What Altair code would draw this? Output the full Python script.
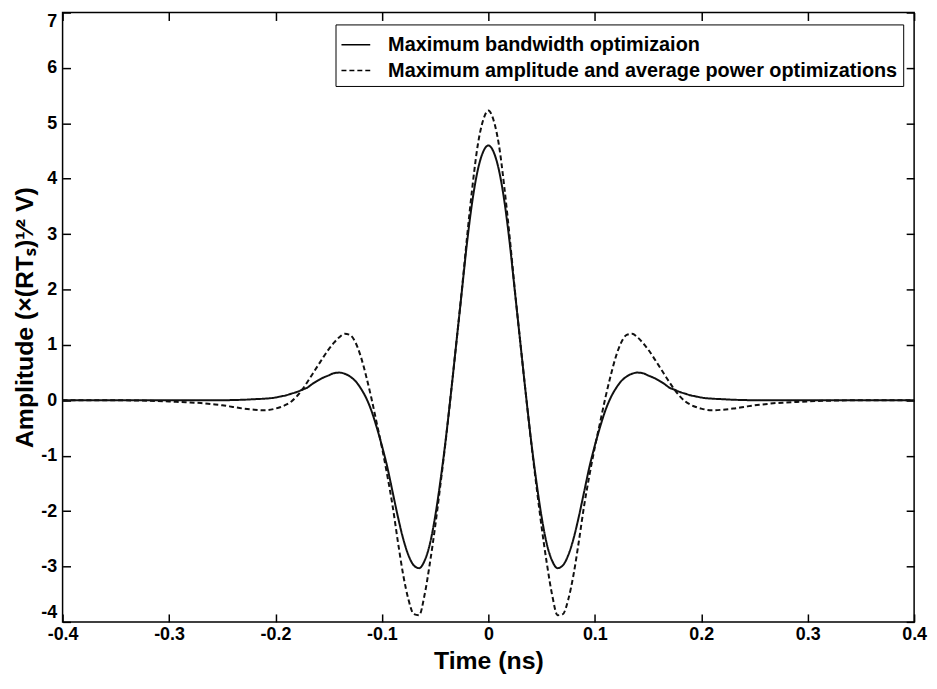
import altair as alt
import pandas as pd

# ---- data ----
time_ns = [
    -0.4, -0.35, -0.3, -0.29, -0.28, -0.27, -0.26, -0.25, -0.24, -0.23, -0.22, -0.21,
    -0.2, -0.195, -0.19, -0.185, -0.18, -0.175, -0.17, -0.165, -0.16, -0.155, -0.15,
    -0.145, -0.14, -0.135, -0.13, -0.125, -0.12, -0.115, -0.11, -0.105, -0.1, -0.095,
    -0.09, -0.085, -0.08, -0.075, -0.07, -0.065, -0.06, -0.055, -0.05, -0.045, -0.04,
    -0.035, -0.03, -0.025, -0.02, -0.015, -0.01, -0.005,
    0.0,
    0.005, 0.01, 0.015, 0.02, 0.025, 0.03, 0.035, 0.04, 0.045, 0.05, 0.055, 0.06,
    0.065, 0.07, 0.075, 0.08, 0.085, 0.09, 0.095, 0.1, 0.105, 0.11, 0.115, 0.12,
    0.125, 0.13, 0.135, 0.14, 0.145, 0.15, 0.155, 0.16, 0.165, 0.17, 0.175, 0.18,
    0.185, 0.19, 0.195, 0.2, 0.21, 0.22, 0.23, 0.24, 0.25, 0.26, 0.27, 0.28, 0.29,
    0.3, 0.35, 0.4,
]

bandwidth_opt = [
    0.0, 0.0, 0.0, 0.0, 0.0, 0.0, 0.0, 0.0, 0.005, 0.01, 0.02, 0.03,
    0.05, 0.07, 0.09, 0.12, 0.15, 0.19, 0.23, 0.30, 0.36, 0.41, 0.45,
    0.49, 0.50, 0.48, 0.43, 0.35, 0.22, 0.05, -0.18, -0.48, -0.82, -1.20,
    -1.65, -2.10, -2.50, -2.80, -2.98, -3.03, -2.90, -2.60, -2.10, -1.45, -0.70,
    0.15, 1.05, 1.95, 2.85, 3.60, 4.15, 4.48,
    4.60,
    4.48, 4.15, 3.60, 2.85, 1.95, 1.05, 0.15, -0.70, -1.45, -2.10, -2.60, -2.90,
    -3.03, -2.98, -2.80, -2.50, -2.10, -1.65, -1.20, -0.82, -0.48, -0.18, 0.05, 0.22,
    0.35, 0.43, 0.48, 0.50, 0.49, 0.45, 0.41, 0.36, 0.30, 0.23, 0.19, 0.15,
    0.12, 0.09, 0.07, 0.05, 0.03, 0.02, 0.01, 0.005, 0.0, 0.0, 0.0, 0.0, 0.0,
    0.0, 0.0, 0.0,
]

amp_power_opt = [
    0.0, 0.0, -0.02, -0.03, -0.04, -0.05, -0.07, -0.09, -0.12, -0.15, -0.17, -0.18,
    -0.15, -0.12, -0.08, -0.02, 0.07, 0.19, 0.33, 0.48, 0.63, 0.78, 0.92,
    1.04, 1.14, 1.20, 1.18, 1.05, 0.80, 0.45, 0.05, -0.40, -0.85, -1.35,
    -1.90, -2.55, -3.15, -3.60, -3.86, -3.88, -3.52, -2.95, -2.28, -1.52, -0.72,
    0.15, 1.05, 1.97, 2.95, 3.85, 4.60, 5.05,
    5.23,
    5.05, 4.60, 3.85, 2.95, 1.97, 1.05, 0.15, -0.72, -1.52, -2.28, -2.95, -3.52,
    -3.88, -3.86, -3.60, -3.15, -2.55, -1.90, -1.35, -0.85, -0.40, 0.05, 0.45, 0.80,
    1.05, 1.18, 1.20, 1.14, 1.04, 0.92, 0.78, 0.63, 0.48, 0.33, 0.19, 0.07,
    -0.02, -0.08, -0.12, -0.15, -0.18, -0.17, -0.15, -0.12, -0.09, -0.07, -0.05, -0.04, -0.03,
    -0.02, 0.0, 0.0,
]

series_names = [
    "Maximum bandwidth optimizaion",
    "Maximum amplitude and average power optimizations",
]
x_ticks = [-0.4, -0.3, -0.2, -0.1, 0, 0.1, 0.2, 0.3, 0.4]
y_ticks = [-4, -3, -2, -1, 0, 1, 2, 3, 4, 5, 6, 7]

df = pd.DataFrame({
    "t": time_ns + time_ns,
    "a": bandwidth_opt + amp_power_opt,
    "s": [series_names[0]] * len(time_ns) + [series_names[1]] * len(time_ns),
})

FONT = "Liberation Sans"
TICK = 8

x_scale = alt.Scale(domain=[-0.4, 0.4], nice=False, zero=False)
y_scale = alt.Scale(domain=[-4, 7], nice=False, zero=False)

common_axis = dict(
    tickSize=TICK, offset=-TICK, domain=False, grid=False,
    tickColor="black", tickWidth=1.5,
    labelFont=FONT, labelFontWeight="bold", labelFontSize=18, labelColor="black",
    titleFont=FONT, titleFontWeight="bold", titleFontSize=25, titleColor="black",
    labelExpr="toString(datum.value)", labelOverlap=False,
)

lines = alt.Chart(df).mark_line(
    color="#111111", strokeWidth=2, interpolate="monotone"
).encode(
    x=alt.X("t:Q", scale=x_scale,
            axis=alt.Axis(title="Time (ns)", values=x_ticks, titlePadding=5,
                          labelPadding=4, labelFlush=False, **common_axis)),
    y=alt.Y("a:Q", scale=y_scale,
            axis=alt.Axis(title="Amplitude (×(RTₛ)¹⁄² V)", values=y_ticks, titlePadding=3,
                          labelPadding=6, labelFlush=True, **common_axis)),
    strokeDash=alt.StrokeDash(
        "s:N",
        scale=alt.Scale(domain=series_names, range=[[1, 0], [5, 3]]),
        legend=alt.Legend(
            title=None, orient="none", legendX=275, legendY=12,
            strokeColor="black", fillColor="white", padding=5,
            symbolType="stroke", symbolSize=840, symbolStrokeWidth=1.5,
            symbolStrokeColor="black",
            labelFont=FONT, labelFontWeight="bold", labelFontSize=20,
            labelColor="black", labelOffset=17, rowPadding=-3,
            labelLimit=0,
        ),
        sort=series_names,
    ),
)

frame_axes = dict(common_axis)
frame_axes.update(labels=False, title=None)

frame = alt.Chart(df).mark_point(opacity=0).encode(
    x=alt.X("t:Q", scale=x_scale,
            axis=alt.Axis(orient="top", values=x_ticks, **frame_axes)),
    y=alt.Y("a:Q", scale=y_scale,
            axis=alt.Axis(orient="right", values=y_ticks, **frame_axes)),
)

chart = alt.layer(lines, frame).resolve_axis(
    x="independent", y="independent"
).properties(
    width=858, height=614,
    padding={"left": 4, "top": 1, "right": 2, "bottom": 4},
    background="white",
).configure_view(stroke="black", strokeWidth=1.5)

chart.save("out.html", embed_options={"renderer": "svg", "actions": False})
